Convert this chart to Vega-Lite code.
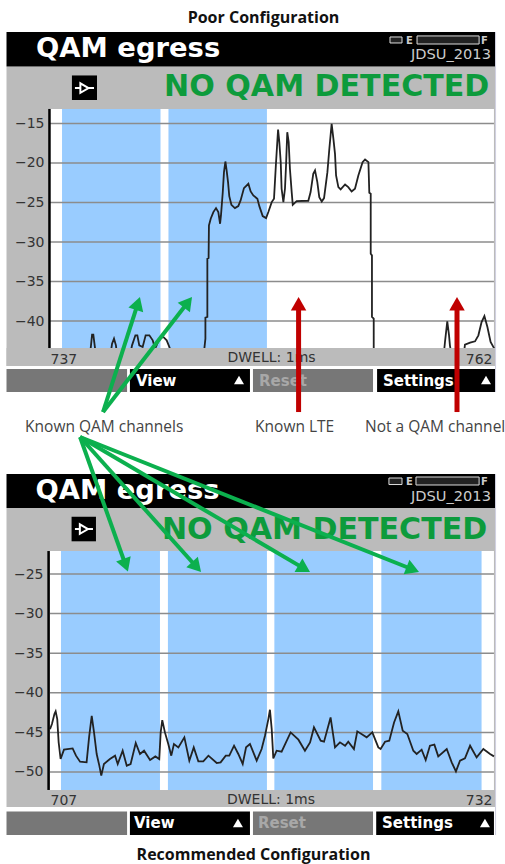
{
"$schema":"https://vega.github.io/schema/vega-lite/v6.json",
"background":"white","padding":{"top":10,"left":0,"right":0,"bottom":26},"spacing":0,"bounds":"flush",
"config":{"view":{"stroke":null},"text":{"font":"DejaVu Sans"},"title":{"font":"Open Sans","fontWeight":"bold","fontSize":16,"color":"#111"}},
"vconcat":[
{"width":505,"height":402,
"title":{"text":"Poor Configuration","offset":8,"anchor":"middle","dx":11,"dy":2},
"encoding":{
 "x":{"field":"x","type":"quantitative","title":null,"scale":{"domain":[734.172,762.735],"nice":false,"zero":false},
  "axis":{"values":[737,762],"domain":false,"ticks":false,"grid":false,"offset":-84,"zindex":1,"labelFont":"DejaVu Sans","labelFontSize":14,"labelColor":"#333","labelPadding":2,"format":"d","labelBound":false,"labelOverlap":false,"labelAlign":{"condition":{"test":"datum.value === 737","value":"left"},"value":"right"}}},
 "y":{"field":"y","type":"quantitative","title":null,"scale":{"domain":[-54.30,-3.42],"nice":false,"zero":false},
  "axis":{"values":[-15,-20,-25,-30,-35,-40],"domain":false,"ticks":false,"grid":false,"offset":-46,"zindex":1,"labelFont":"DejaVu Sans","labelFontSize":14,"labelColor":"#333","labelPadding":2,"format":"d","labelBound":false,"labelOverlap":false}}},
"layer":[
 {"data":{"values":[
  {"part":"screen","x":734.54,"x2":762.17,"y":-7.78,"y2":-45.70},
  {"part":"header","x":734.54,"x2":762.17,"y":-3.42,"y2":-7.78},
  {"part":"plot","x":737,"x2":762.11,"y":-13.16,"y2":-43.42},
  {"part":"channel","x":737.68,"x2":743.25,"y":-13.16,"y2":-43.42},
  {"part":"channel","x":743.70,"x2":749.27,"y":-13.16,"y2":-43.42},
  {"part":"softkey off","x":734.54,"x2":741.36,"y":-46.08,"y2":-48.99},
  {"part":"softkey on","x":741.52,"x2":748.31,"y":-46.08,"y2":-48.99},
  {"part":"softkey off","x":748.48,"x2":755.27,"y":-46.08,"y2":-48.99},
  {"part":"softkey on","x":755.50,"x2":762.17,"y":-46.08,"y2":-48.99},
  {"part":"icon","x":738.24,"x2":739.66,"y":-8.92,"y2":-12.03},
  {"part":"edge","x":762.17,"x2":762.23,"y":-3.42,"y2":-48.99}
 ]},
 "mark":{"type":"rect"},
 "encoding":{"x2":{"field":"x2"},"y2":{"field":"y2"},
  "color":{"field":"part","type":"nominal","legend":null,"scale":{"domain":["screen","header","plot","channel","softkey off","softkey on","icon","edge"],"range":["#bbbbbb","#000000","#ffffff","#99ccff","#777777","#000000","#000000","#d0d0e0"]}}}},
 {"data":{"values":[{"x":737,"x2":762.11,"y":-15},{"x":737,"x2":762.11,"y":-20},{"x":737,"x2":762.11,"y":-25},{"x":737,"x2":762.11,"y":-30},{"x":737,"x2":762.11,"y":-35},{"x":737,"x2":762.11,"y":-40}]},
 "mark":{"type":"rule","color":"#8c8c8c","strokeWidth":1.5},"encoding":{"x2":{"field":"x2"}}},
 {"data":{"values":[
{"x":737.0,"y":-44.76},{"x":739.26,"y":-44.76},{"x":739.30,"y":-43.50},{"x":739.38,"y":-41.73},{"x":739.45,"y":-41.73},{"x":739.55,"y":-43.50},{"x":739.64,"y":-44.76},{"x":740.39,"y":-44.76},{"x":740.51,"y":-42.87},{"x":740.62,"y":-42.23},{"x":740.73,"y":-43.08},{"x":740.81,"y":-44.76},{"x":741.49,"y":-44.76},{"x":741.64,"y":-43.08},{"x":741.83,"y":-41.81},{"x":741.94,"y":-41.81},{"x":742.05,"y":-43.08},{"x":742.24,"y":-43.29},{"x":742.41,"y":-41.81},{"x":742.62,"y":-41.81},{"x":742.81,"y":-42.45},{"x":742.94,"y":-43.50},{"x":743.03,"y":-43.08},{"x":743.18,"y":-42.23},{"x":743.41,"y":-42.02},{"x":743.60,"y":-42.45},{"x":743.79,"y":-43.50},{"x":743.88,"y":-44.76},{"x":745.67,"y":-44.76},{"x":745.79,"y":-42.23},{"x":745.79,"y":-39.58},{"x":745.90,"y":-39.49},{"x":745.90,"y":-32.12},{"x":745.97,"y":-32.03},{"x":745.99,"y":-27.90},{"x":746.09,"y":-27.06},{"x":746.24,"y":-26.21},{"x":746.39,"y":-25.71},{"x":746.52,"y":-26.21},{"x":746.62,"y":-27.69},{"x":746.67,"y":-26.64},{"x":746.77,"y":-23.77},{"x":746.84,"y":-21.16},{"x":746.92,"y":-19.81},{"x":746.99,"y":-20.94},{"x":747.07,"y":-22.42},{"x":747.14,"y":-24.19},{"x":747.26,"y":-25.29},{"x":747.46,"y":-25.71},{"x":747.65,"y":-25.46},{"x":747.78,"y":-24.74},{"x":747.97,"y":-23.18},{"x":748.22,"y":-22.63},{"x":748.35,"y":-23.60},{"x":748.50,"y":-24.11},{"x":748.73,"y":-24.53},{"x":748.84,"y":-25.46},{"x":749.03,"y":-26.72},{"x":749.22,"y":-26.97},{"x":749.35,"y":-26.21},{"x":749.54,"y":-24.95},{"x":749.67,"y":-24.53},{"x":749.78,"y":-20.10},{"x":749.90,"y":-15.76},{"x":749.97,"y":-17.36},{"x":750.05,"y":-19.89},{"x":750.10,"y":-23.26},{"x":750.20,"y":-24.95},{"x":750.29,"y":-23.26},{"x":750.35,"y":-20.31},{"x":750.42,"y":-16.10},{"x":750.50,"y":-17.36},{"x":750.57,"y":-20.73},{"x":750.67,"y":-23.68},{"x":750.73,"y":-25.29},{"x":750.95,"y":-24.82},{"x":751.61,"y":-24.78},{"x":751.74,"y":-23.68},{"x":751.89,"y":-21.37},{"x":751.99,"y":-20.94},{"x":752.12,"y":-22.42},{"x":752.23,"y":-24.32},{"x":752.37,"y":-24.87},{"x":752.50,"y":-24.44},{"x":752.69,"y":-21.16},{"x":752.80,"y":-18.20},{"x":752.93,"y":-15.04},{"x":753.03,"y":-16.94},{"x":753.12,"y":-18.84},{"x":753.18,"y":-21.58},{"x":753.31,"y":-23.05},{"x":753.44,"y":-23.35},{"x":753.69,"y":-22.72},{"x":753.87,"y":-23.05},{"x":754.06,"y":-23.60},{"x":754.25,"y":-23.26},{"x":754.44,"y":-21.58},{"x":754.68,"y":-19.89},{"x":754.82,"y":-19.55},{"x":755.01,"y":-19.89},{"x":755.06,"y":-23.77},{"x":755.14,"y":-23.90},{"x":755.14,"y":-31.48},{"x":755.21,"y":-31.69},{"x":755.21,"y":-39.49},{"x":755.31,"y":-39.71},{"x":755.31,"y":-44.76},{"x":759.25,"y":-44.76},{"x":759.34,"y":-42.66},{"x":759.47,"y":-40.04},{"x":759.57,"y":-41.81},{"x":759.62,"y":-43.08},{"x":759.74,"y":-44.76},{"x":760.38,"y":-44.76},{"x":760.47,"y":-43.0},{"x":760.76,"y":-42.74},{"x":761.04,"y":-42.57},{"x":761.23,"y":-41.81},{"x":761.41,"y":-40.13},{"x":761.57,"y":-39.37},{"x":761.74,"y":-40.76},{"x":761.92,"y":-42.66},{"x":762.13,"y":-43.50}
 ]},
 "mark":{"type":"line","color":"#222","strokeWidth":1.8,"interpolate":"linear"}},
 {"data":{"values":[{"x":734.54,"x2":762.17,"y":-43.42,"y2":-45.70}]},"mark":{"type":"rect","color":"#bbbbbb"},"encoding":{"x2":{"field":"x2"},"y2":{"field":"y2"}}},
 {"data":{"values":[{"x":736.97,"y":-13.16,"y2":-43.42}]},"mark":{"type":"rule","color":"#000","strokeWidth":2.5},"encoding":{"y2":{"field":"y2"}}},
 {"data":{"values":[{"x":756.23,"x2":756.91,"y":-4.05,"y2":-4.81},{"x":757.76,"x2":761.27,"y":-3.92,"y2":-4.94}]},"mark":{"type":"rect","fill":"#222","stroke":"#ddd","strokeWidth":1},"encoding":{"x2":{"field":"x2"},"y2":{"field":"y2"}}},
 {"data":{"values":[{"x":738.41,"x2":739.49,"y":-10.51}]},"mark":{"type":"rule","color":"#fff","strokeWidth":2},"encoding":{"x2":{"field":"x2"}}},
 {"data":{"values":[{"x":738.95,"y":-10.51}]},"mark":{"type":"point","shape":"triangle-right","filled":true,"fill":"#000","stroke":"#fff","strokeWidth":2,"size":90,"opacity":1}},
 {"data":{"values":[{"x":747.69,"y":-47.47},{"x":761.66,"y":-47.47}]},"mark":{"type":"point","shape":"triangle-up","filled":true,"fill":"#fff","stroke":null,"size":100,"opacity":1}},
 {"data":{"values":[{"label":"QAM egress","x":736.21,"y":-6.58}]},"mark":{"type":"text","align":"left","baseline":"alphabetic","font":"DejaVu Sans","fontWeight":"bold","fontSize":27.4,"color":"#fff"},"encoding":{"text":{"field":"label"}}},
 {"data":{"values":[{"label":"JDSU_2013","x":761.94,"y":-6.84}]},"mark":{"type":"text","align":"right","baseline":"alphabetic","font":"DejaVu Sans","fontSize":14.6,"color":"#ccc"},"encoding":{"text":{"field":"label"}}},
 {"data":{"values":[{"label":"E","x":757.14,"y":-4.94},{"label":"F","x":761.38,"y":-4.94}]},"mark":{"type":"text","align":"left","baseline":"alphabetic","font":"DejaVu Sans","fontWeight":"bold","fontSize":10,"color":"#ccc"},"encoding":{"text":{"field":"label"}}},
 {"data":{"values":[{"label":"NO QAM DETECTED","x":743.45,"y":-11.58}]},"mark":{"type":"text","align":"left","baseline":"alphabetic","font":"DejaVu Sans","fontWeight":"bold","fontSize":30.1,"color":"#0d9b3c"},"encoding":{"text":{"field":"label"}}},
 {"data":{"values":[{"label":"DWELL: 1ms","x":749.53,"y":-45.19}]},"mark":{"type":"text","align":"center","baseline":"alphabetic","font":"DejaVu Sans","fontSize":14,"color":"#333"},"encoding":{"text":{"field":"label"}}},
 {"data":{"values":[{"label":"View","x":741.86,"y":-48.23},{"label":"Settings","x":755.83,"y":-48.23}]},"mark":{"type":"text","align":"left","baseline":"alphabetic","font":"DejaVu Sans","fontWeight":"bold","fontSize":15,"color":"#fff"},"encoding":{"text":{"field":"label"}}},
 {"data":{"values":[{"label":"Reset","x":748.82,"y":-48.23}]},"mark":{"type":"text","align":"left","baseline":"alphabetic","font":"DejaVu Sans","fontWeight":"bold","fontSize":15,"color":"#a8a8a8"},"encoding":{"text":{"field":"label"}}},
 {"data":{"values":[{"label":"Known QAM channels","x":735.59,"y":-54.05},{"label":"Known LTE","x":748.60,"y":-54.05},{"label":"Not a QAM channel","x":754.82,"y":-54.05}]},"mark":{"type":"text","align":"left","baseline":"alphabetic","font":"Open Sans","fontSize":15.5,"color":"#444"},"encoding":{"text":{"field":"label"}}},
 {"data":{"values":[{"x":740.00,"y":-51.52,"x2":741.97,"y2":-37.77},{"x":740.00,"y":-51.52,"x2":744.80,"y2":-37.63}]},"mark":{"type":"rule","color":"#0cb04e","strokeWidth":4},"encoding":{"x2":{"field":"x2"},"y2":{"field":"y2"}}},
 {"data":{"values":[{"x":741.97,"y":-37.77,"heading":17.8},{"x":744.80,"y":-37.63,"heading":37.7}]},"mark":{"type":"point","shape":"triangle-up","filled":true,"color":"#0cb04e","size":240,"opacity":1},"encoding":{"angle":{"field":"heading","type":"quantitative","scale":null}}},
 {"data":{"values":[{"x":751.06,"y":-51.52,"y2":-37.81},{"x":760.02,"y":-51.52,"y2":-37.81}]},"mark":{"type":"rule","color":"#c00000","strokeWidth":5},"encoding":{"y2":{"field":"y2"}}},
 {"data":{"values":[{"x":751.06,"y":-37.81},{"x":760.02,"y":-37.81}]},"mark":{"type":"point","shape":"triangle-up","filled":true,"color":"#c00000","size":240,"opacity":1}}
]},
{"width":505,"height":403,
"title":{"text":"Recommended Configuration","orient":"bottom","offset":9.5,"anchor":"middle","dx":1},
"encoding":{
 "x":{"field":"x","type":"quantitative","title":null,"scale":{"domain":[704.172,732.735],"nice":false,"zero":false},
  "axis":{"values":[707,732],"domain":false,"ticks":false,"grid":false,"offset":-46,"zindex":1,"labelFont":"DejaVu Sans","labelFontSize":14,"labelColor":"#333","labelPadding":2,"format":"d","labelBound":false,"labelOverlap":false,"labelAlign":{"condition":{"test":"datum.value === 707","value":"left"},"value":"right"}}},
 "y":{"field":"y","type":"quantitative","title":null,"scale":{"domain":[-58.21,-7.32],"nice":false,"zero":false},
  "axis":{"values":[-25,-30,-35,-40,-45,-50],"domain":false,"ticks":false,"grid":false,"offset":-45,"zindex":1,"labelFont":"DejaVu Sans","labelFontSize":14,"labelColor":"#333","labelPadding":2,"format":"d","labelBound":false,"labelOverlap":false}}},
"layer":[
 {"data":{"values":[
  {"part":"screen","x":704.54,"x2":732.17,"y":-16.67,"y2":-54.42},
  {"part":"header","x":704.54,"x2":732.17,"y":-12.37,"y2":-16.67},
  {"part":"plot","x":707,"x2":732.11,"y":-22.10,"y2":-52.27},
  {"part":"channel","x":707.62,"x2":713.22,"y":-22.10,"y2":-52.27},
  {"part":"channel","x":713.67,"x2":719.27,"y":-22.10,"y2":-52.27},
  {"part":"channel","x":719.69,"x2":725.27,"y":-22.10,"y2":-52.27},
  {"part":"channel","x":725.74,"x2":731.41,"y":-22.10,"y2":-52.27},
  {"part":"softkey off","x":704.54,"x2":711.36,"y":-54.99,"y2":-57.95},
  {"part":"softkey on","x":711.52,"x2":718.31,"y":-54.99,"y2":-57.95},
  {"part":"softkey off","x":718.48,"x2":725.27,"y":-54.99,"y2":-57.95},
  {"part":"softkey on","x":725.45,"x2":732.11,"y":-54.99,"y2":-57.95},
  {"part":"icon","x":708.22,"x2":709.60,"y":-17.77,"y2":-20.87},
  {"part":"edge","x":732.17,"x2":732.23,"y":-12.37,"y2":-57.95}
 ]},
 "mark":{"type":"rect"},
 "encoding":{"x2":{"field":"x2"},"y2":{"field":"y2"},
  "color":{"field":"part","type":"nominal","legend":null,"scale":{"domain":["screen","header","plot","channel","softkey off","softkey on","icon","edge"],"range":["#bbbbbb","#000000","#ffffff","#99ccff","#777777","#000000","#000000","#d0d0e0"]}}}},
 {"data":{"values":[{"x":707,"x2":732.11,"y":-25},{"x":707,"x2":732.11,"y":-30},{"x":707,"x2":732.11,"y":-35},{"x":707,"x2":732.11,"y":-40},{"x":707,"x2":732.11,"y":-45},{"x":707,"x2":732.11,"y":-50}]},
 "mark":{"type":"rule","color":"#8c8c8c","strokeWidth":1.5},"encoding":{"x2":{"field":"x2"}}},
 {"data":{"values":[
{"x":707.00,"y":-44.58},{"x":707.11,"y":-43.95},{"x":707.25,"y":-42.69},{"x":707.32,"y":-42.35},{"x":707.41,"y":-43.32},{"x":707.49,"y":-46.26},{"x":707.60,"y":-48.36},{"x":707.79,"y":-47.18},{"x":708.28,"y":-47.02},{"x":708.47,"y":-47.94},{"x":708.70,"y":-48.70},{"x":709.07,"y":-48.78},{"x":709.21,"y":-45.63},{"x":709.36,"y":-42.90},{"x":709.49,"y":-45.00},{"x":709.64,"y":-47.73},{"x":709.79,"y":-49.20},{"x":709.90,"y":-50.46},{"x":710.05,"y":-48.99},{"x":710.39,"y":-48.36},{"x":710.68,"y":-47.94},{"x":710.83,"y":-48.99},{"x":711.11,"y":-47.31},{"x":711.34,"y":-49.20},{"x":711.56,"y":-48.99},{"x":711.85,"y":-46.34},{"x":712.09,"y":-47.73},{"x":712.32,"y":-47.31},{"x":712.66,"y":-48.49},{"x":712.96,"y":-48.03},{"x":713.18,"y":-48.36},{"x":713.26,"y":-45.00},{"x":713.35,"y":-43.45},{"x":713.50,"y":-45.00},{"x":713.69,"y":-46.47},{"x":713.86,"y":-47.94},{"x":714.01,"y":-46.47},{"x":714.26,"y":-46.89},{"x":714.60,"y":-45.63},{"x":714.88,"y":-48.57},{"x":715.13,"y":-46.89},{"x":715.39,"y":-48.66},{"x":715.67,"y":-48.66},{"x":715.96,"y":-47.94},{"x":716.43,"y":-48.87},{"x":716.65,"y":-48.78},{"x":716.94,"y":-47.94},{"x":717.14,"y":-47.94},{"x":717.41,"y":-46.68},{"x":717.65,"y":-47.73},{"x":717.90,"y":-48.99},{"x":718.09,"y":-46.89},{"x":718.31,"y":-46.47},{"x":718.69,"y":-48.57},{"x":718.97,"y":-47.10},{"x":719.16,"y":-45.42},{"x":719.35,"y":-43.32},{"x":719.44,"y":-42.14},{"x":719.54,"y":-44.58},{"x":719.63,"y":-48.28},{"x":719.82,"y":-47.31},{"x":720.10,"y":-47.44},{"x":720.61,"y":-45.00},{"x":721.05,"y":-45.92},{"x":721.42,"y":-47.31},{"x":721.71,"y":-46.26},{"x":721.93,"y":-44.37},{"x":722.31,"y":-46.05},{"x":722.50,"y":-46.18},{"x":722.87,"y":-43.11},{"x":723.12,"y":-46.89},{"x":723.40,"y":-46.26},{"x":723.69,"y":-46.68},{"x":723.87,"y":-46.18},{"x":724.19,"y":-47.10},{"x":724.38,"y":-44.87},{"x":724.91,"y":-45.63},{"x":725.23,"y":-45.00},{"x":725.57,"y":-46.89},{"x":725.70,"y":-47.10},{"x":725.95,"y":-46.18},{"x":726.19,"y":-46.05},{"x":726.46,"y":-43.74},{"x":726.70,"y":-42.35},{"x":726.95,"y":-44.79},{"x":727.21,"y":-45.21},{"x":727.55,"y":-47.31},{"x":727.74,"y":-47.73},{"x":728.02,"y":-47.18},{"x":728.25,"y":-48.49},{"x":728.49,"y":-46.68},{"x":728.74,"y":-46.55},{"x":728.96,"y":-48.03},{"x":729.44,"y":-47.10},{"x":729.72,"y":-48.78},{"x":729.96,"y":-49.92},{"x":730.19,"y":-48.57},{"x":730.47,"y":-48.28},{"x":730.76,"y":-46.68},{"x":731.13,"y":-48.15},{"x":731.51,"y":-47.10},{"x":731.89,"y":-47.73},{"x":732.11,"y":-48.03}
 ]},
 "mark":{"type":"line","color":"#222","strokeWidth":1.8,"interpolate":"linear"}},
 {"data":{"values":[{"x":706.92,"y":-22.10,"y2":-52.27}]},"mark":{"type":"rule","color":"#000","strokeWidth":2.5},"encoding":{"y2":{"field":"y2"}}},
 {"data":{"values":[{"x":726.17,"x2":726.91,"y":-12.88,"y2":-13.70},{"x":727.70,"x2":731.27,"y":-12.75,"y2":-13.76}]},"mark":{"type":"rect","fill":"#222","stroke":"#ddd","strokeWidth":1},"encoding":{"x2":{"field":"x2"},"y2":{"field":"y2"}}},
 {"data":{"values":[{"x":708.41,"x2":709.43,"y":-19.32}]},"mark":{"type":"rule","color":"#fff","strokeWidth":2},"encoding":{"x2":{"field":"x2"}}},
 {"data":{"values":[{"x":708.92,"y":-19.32}]},"mark":{"type":"point","shape":"triangle-right","filled":true,"fill":"#000","stroke":"#fff","strokeWidth":2,"size":90,"opacity":1}},
 {"data":{"values":[{"x":717.63,"y":-56.44},{"x":731.60,"y":-56.44}]},"mark":{"type":"point","shape":"triangle-up","filled":true,"fill":"#fff","stroke":null,"size":100,"opacity":1}},
 {"data":{"values":[{"label":"QAM egress","x":706.18,"y":-15.53}]},"mark":{"type":"text","align":"left","baseline":"alphabetic","font":"DejaVu Sans","fontWeight":"bold","fontSize":27.4,"color":"#fff"},"encoding":{"text":{"field":"label"}}},
 {"data":{"values":[{"label":"JDSU_2013","x":731.94,"y":-15.75}]},"mark":{"type":"text","align":"right","baseline":"alphabetic","font":"DejaVu Sans","fontSize":14.6,"color":"#ccc"},"encoding":{"text":{"field":"label"}}},
 {"data":{"values":[{"label":"E","x":727.14,"y":-13.76},{"label":"F","x":731.38,"y":-13.76}]},"mark":{"type":"text","align":"left","baseline":"alphabetic","font":"DejaVu Sans","fontWeight":"bold","fontSize":10,"color":"#ccc"},"encoding":{"text":{"field":"label"}}},
 {"data":{"values":[{"label":"NO QAM DETECTED","x":713.33,"y":-20.52}]},"mark":{"type":"text","align":"left","baseline":"alphabetic","font":"DejaVu Sans","fontWeight":"bold","fontSize":30.1,"color":"#0d9b3c"},"encoding":{"text":{"field":"label"}}},
 {"data":{"values":[{"label":"DWELL: 1ms","x":719.50,"y":-54.04}]},"mark":{"type":"text","align":"center","baseline":"alphabetic","font":"DejaVu Sans","fontSize":14,"color":"#333"},"encoding":{"text":{"field":"label"}}},
 {"data":{"values":[{"label":"View","x":711.75,"y":-57.07},{"label":"Settings","x":725.78,"y":-57.07}]},"mark":{"type":"text","align":"left","baseline":"alphabetic","font":"DejaVu Sans","fontWeight":"bold","fontSize":15,"color":"#fff"},"encoding":{"text":{"field":"label"}}},
 {"data":{"values":[{"label":"Reset","x":718.76,"y":-57.07}]},"mark":{"type":"text","align":"left","baseline":"alphabetic","font":"DejaVu Sans","fontWeight":"bold","fontSize":15,"color":"#a8a8a8"},"encoding":{"text":{"field":"label"}}},
 {"data":{"values":[{"x":708.70,"y":-7.70,"x2":711.28,"y2":-23.89},{"x":708.70,"y":-7.70,"x2":715.29,"y2":-24.12},{"x":708.70,"y":-7.70,"x2":721.38,"y2":-24.32},{"x":708.70,"y":-7.70,"x2":727.52,"y2":-24.43}]},"mark":{"type":"rule","color":"#0cb04e","strokeWidth":4},"encoding":{"x2":{"field":"x2"},"y2":{"field":"y2"}}},
 {"data":{"values":[{"x":711.28,"y":-23.89,"heading":160.4},{"x":715.29,"y":-24.12,"heading":138.1},{"x":721.38,"y":-24.32,"heading":120.4},{"x":727.52,"y":-24.43,"heading":111.7}]},"mark":{"type":"point","shape":"triangle-up","filled":true,"color":"#0cb04e","size":240,"opacity":1},"encoding":{"angle":{"field":"heading","type":"quantitative","scale":null}}}
]}
]}
